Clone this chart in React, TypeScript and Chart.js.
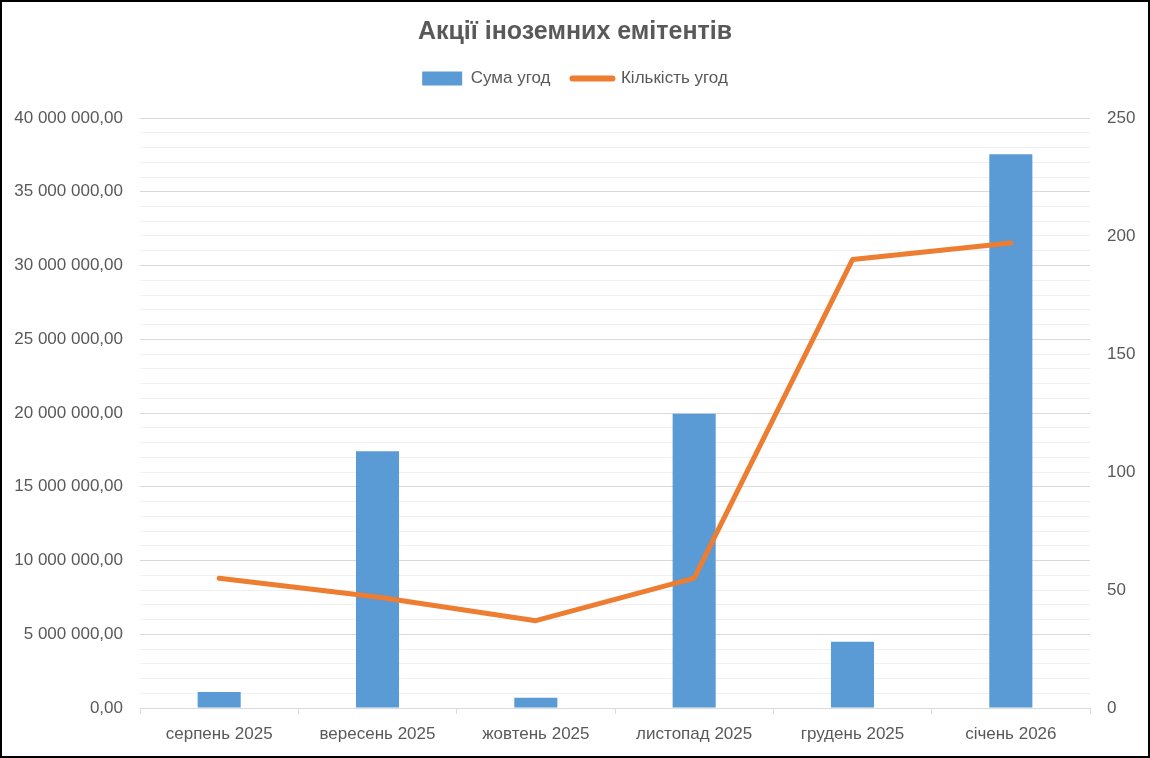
import React, { useEffect, useRef } from "react";
import { Chart, registerables } from "chart.js";

Chart.register(...registerables);

const categories = ["серпень 2025", "вересень 2025", "жовтень 2025", "листопад 2025", "грудень 2025", "січень 2026"];
const sumValues = [1080000, 17400000, 700000, 19950000, 4500000, 37550000];
const countValues = [55, 47, 37, 55, 190, 197];
const seriesNames = ["Сума угод", "Кількість угод"];
const chartTitle = "Акції іноземних емітентів";

const FONT = "'Liberation Sans', Arial, sans-serif";
const TEXT = "#595959";

function fmt(v: number): string {
  const fixed = Math.abs(v).toFixed(2);
  const [intPart, dec] = fixed.split(".");
  const grouped = intPart.replace(/\B(?=(\d{3})+(?!\d))/g, " ");
  return (v < 0 ? "-" : "") + grouped + "," + dec;
}

export default function App() {
  const ref = useRef<HTMLCanvasElement | null>(null);
  useEffect(() => {
    document.body.style.margin = "0";
    const legendMargin = {
      id: "legendMargin",
      beforeInit(chart: any) {
        const orig = chart.legend.fit;
        chart.legend.fit = function () {
          orig.bind(chart.legend)();
          this.height += 21;
        };
      },
    };
    const chart = new Chart(ref.current as HTMLCanvasElement, {
      type: "bar",
      data: {
        labels: categories,
        datasets: [
          {
            type: "bar",
            label: seriesNames[0],
            data: sumValues,
            backgroundColor: "#5B9BD5",
            borderWidth: 0,
            yAxisID: "y",
            order: 1,
            categoryPercentage: 1,
            barPercentage: 0.272,
          } as any,
          {
            type: "line",
            label: seriesNames[1],
            data: countValues,
            borderColor: "#ED7D31",
            backgroundColor: "#ED7D31",
            borderWidth: 5,
            pointRadius: 0,
            borderCapStyle: "round",
            borderJoinStyle: "round",
            tension: 0,
            yAxisID: "y1",
            order: 0,
            pointStyle: "line",
          } as any,
        ],
      },
      plugins: [legendMargin],
      options: {
        animation: false,
        responsive: true,
        maintainAspectRatio: false,
        layout: { padding: { left: 0, right: 0, top: 0, bottom: 0 } },
        plugins: {
          title: {
            display: true,
            text: chartTitle,
            color: TEXT,
            font: { family: FONT, size: 25, weight: "bold" },
            padding: { top: 15, bottom: 1 },
          },
          legend: {
            display: true,
            position: "top",
            labels: {
              color: TEXT,
              font: { family: FONT, size: 17 },
              usePointStyle: true,
              pointStyleWidth: 40,
              boxHeight: 14,
              padding: 22,
              sort: (a: any, b: any) => a.datasetIndex - b.datasetIndex,
              generateLabels: (ch: any) =>
                ch.data.datasets.map((ds: any, i: number) => ({
                  text: ds.label,
                  datasetIndex: i,
                  fillStyle: i === 0 ? "#5B9BD5" : "#ED7D31",
                  strokeStyle: i === 0 ? "#5B9BD5" : "#ED7D31",
                  lineWidth: i === 0 ? 0 : 6,
                  lineCap: "round",
                  pointStyle: i === 0 ? "rect" : "line",
                  fontColor: TEXT,
                  hidden: false,
                })),
            },
          },
          tooltip: { enabled: false },
        },
        scales: {
          x: {
            type: "category",
            offset: true,
            grid: {
              display: true,
              offset: true,
              drawOnChartArea: false,
              drawTicks: true,
              tickLength: 6,
              color: "#D9D9D9",
            },
            border: { display: true, color: "#D9D9D9", width: 1 },
            ticks: {
              color: TEXT,
              font: { family: FONT, size: 17 },
              padding: 10,
              maxRotation: 0,
              autoSkip: false,
            },
            afterFit: (s: any) => {
              s.height = 48;
            },
          },
          y: {
            type: "linear",
            position: "left",
            min: 0,
            max: 40000000,
            grid: {
              color: (c: any) => (c.tick && c.tick.value % 5000000 === 0 ? "#D9D9D9" : "#F0F0F0"),
              lineWidth: 1,
              drawTicks: false,
            },
            border: { display: false },
            ticks: {
              stepSize: 1000000,
              autoSkip: false,
              color: TEXT,
              font: { family: FONT, size: 17 },
              padding: 17,
              callback: (v: any) => (Number(v) % 5000000 === 0 ? fmt(Number(v)) : ""),
            },
            afterFit: (s: any) => {
              s.width = 138;
            },
          },
          y1: {
            type: "linear",
            position: "right",
            min: 0,
            max: 250,
            grid: { display: false, drawTicks: false },
            border: { display: false },
            ticks: {
              stepSize: 50,
              color: TEXT,
              font: { family: FONT, size: 17 },
              padding: 17,
            },
            afterFit: (s: any) => {
              s.width = 58;
            },
          },
        },
      },
    });
    return () => chart.destroy();
  }, []);
  return (
    <div
      style={{
        position: "absolute",
        left: 0,
        top: 0,
        width: 1150,
        height: 758,
        boxSizing: "border-box",
        border: "2px solid #000",
        background: "#fff",
      }}
    >
      <div style={{ position: "relative", width: 1146, height: 754 }}>
        <canvas ref={ref} />
      </div>
    </div>
  );
}
